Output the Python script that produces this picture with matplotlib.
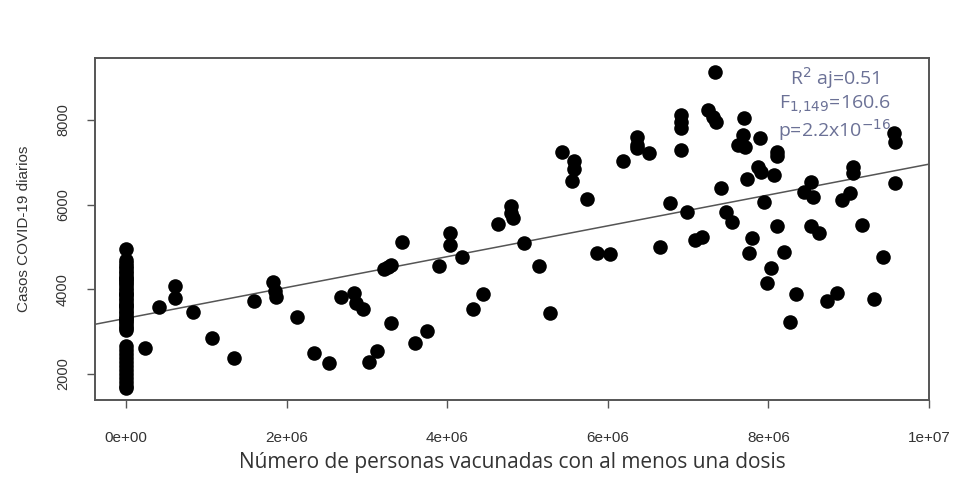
import matplotlib
matplotlib.use('Agg')
import matplotlib.pyplot as plt
import numpy as np

# people with at least one dose (millions) and daily cases
vac_zero = [0.0] * 46
cases_zero = [4950, 4700, 4620, 4560, 4500, 4440, 4380, 4320, 4260, 4200,
              4150, 4100, 4040, 3980, 3920, 3860, 3800, 3740, 3680, 3620,
              3560, 3500, 3440, 3380, 3320, 3260, 3200, 3140, 3080, 3040,
              3300, 3600, 3900, 4250, 2650, 2560, 2470, 2380, 2290, 2200,
              2100, 2000, 1900, 1800, 1720, 1670]

vac_m = [0.24, 0.41, 0.61, 0.61, 0.84, 1.07, 1.35, 1.60, 1.83, 1.86,
         1.87, 2.13, 2.34, 2.53, 2.68, 2.84, 2.86, 2.95, 3.30, 3.03,
         3.13, 3.21, 3.26, 3.30, 3.44, 3.60, 3.75, 3.90, 4.04, 4.04,
         4.18, 4.32, 4.45, 4.63, 4.80, 4.80, 4.82, 4.96, 5.14, 5.28,
         5.43, 5.58, 5.58, 5.56, 5.74, 5.87, 6.03, 6.19, 6.36, 6.36,
         6.36, 6.51, 6.65, 6.77, 6.91, 6.91, 6.91, 6.91, 7.33, 7.25,
         7.31, 7.35, 7.70, 7.69, 7.62, 7.71, 7.90, 8.11, 8.11, 7.87,
         7.91, 8.07, 7.73, 7.41, 7.95, 6.99, 7.47, 7.55, 8.53, 8.44,
         8.55, 9.05, 9.05, 8.92, 9.02, 9.56, 9.58, 9.58, 7.08, 7.17,
         7.80, 7.76, 8.11, 8.19, 8.03, 7.98, 8.53, 8.63, 9.17, 9.43,
         8.35, 8.27, 8.85, 8.73, 9.31]
cases = [2607, 3590, 3788, 4078, 3457, 2843, 2371, 3731, 4180, 3950,
         3830, 3339, 2488, 2267, 3820, 3920, 3670, 3530, 3212, 2291,
         2551, 4473, 4530, 4575, 5125, 2725, 3023, 4551, 5323, 5047,
         4756, 3528, 3890, 5543, 5960, 5800, 5680, 5101, 4551, 3434,
         7236, 7040, 6840, 6560, 6134, 4850, 4834, 7039, 7590, 7420,
         7330, 7212, 5007, 6032, 8120, 7960, 7800, 7291, 9140, 8236,
         8080, 7960, 8040, 7645, 7410, 7370, 7566, 7250, 7150, 6897,
         6779, 6700, 6613, 6400, 6070, 5834, 5834, 5600, 6543, 6307,
         6189, 6897, 6740, 6110, 6268, 7684, 7488, 6504, 5165, 5243,
         5204, 4850, 5496, 4889, 4496, 4157, 5496, 5323, 5530, 4771,
         3890, 3235, 3906, 3731, 3764]

x_ticks = [0, 2e6, 4e6, 6e6, 8e6, 1e7]
x_tick_labels = ['0e+00', '2e+06', '4e+06', '6e+06', '8e+06', '1e+07']
y_ticks = [2000, 4000, 6000, 8000]
stats_lines = [r'R$^2$ aj=0.51', r'F$_{1{,}149}$=160.6', r'p=2.2x10$^{-16}$']

x = np.array(vac_zero + vac_m) * 1e6
y = np.array(cases_zero + cases, dtype=float)

plt.rcParams['font.family'] = ['Liberation Sans', 'DejaVu Sans']
fig = plt.figure(figsize=(9.58, 4.79), dpi=100)
ax = fig.add_axes([0.0992, 0.1649, 0.8705, 0.714])

ax.scatter(x, y, s=110, color='black', linewidths=0, zorder=3)

slope, icept = np.polyfit(x, y, 1)
xl = np.array([-0.4e6, 1.01e7])
ax.plot(xl, icept + slope * xl, color='#555555', lw=1.1, zorder=2)

ax.set_xlim(-0.386e6, 9.96e6)
ax.set_ylim(1386, 9464)
ax.set_xticks(x_ticks)
ax.set_xticklabels(x_tick_labels, fontsize=11, color='#333333')
ax.set_yticks(y_ticks)
ax.set_yticklabels([str(v) for v in y_ticks], rotation=90, va='center',
                   fontsize=10.5, color='#333333')
ax.tick_params(direction='out', length=6, width=1, color='#555555')
ax.tick_params(axis='x', pad=16)
ax.tick_params(axis='y', pad=12)
for sp in ax.spines.values():
    sp.set_color('#555555')
    sp.set_linewidth(1.4)

ax.set_xlabel('Número de personas vacunadas con al menos una dosis',
              fontsize=15, color='#333333', family=['Open Sans', 'DejaVu Sans'],
              labelpad=5)
ax.set_ylabel('Casos COVID-19 diarios', fontsize=11, color='#333333', labelpad=18)

for i, t in enumerate(stats_lines):
    ax.text(0.887, 0.94 - i * 0.076, t, transform=ax.transAxes, ha='center',
            va='center', fontsize=14, color='#6b7196',
            family=['Open Sans', 'DejaVu Sans'])

fig.savefig('out.png', dpi=100, facecolor='white')
